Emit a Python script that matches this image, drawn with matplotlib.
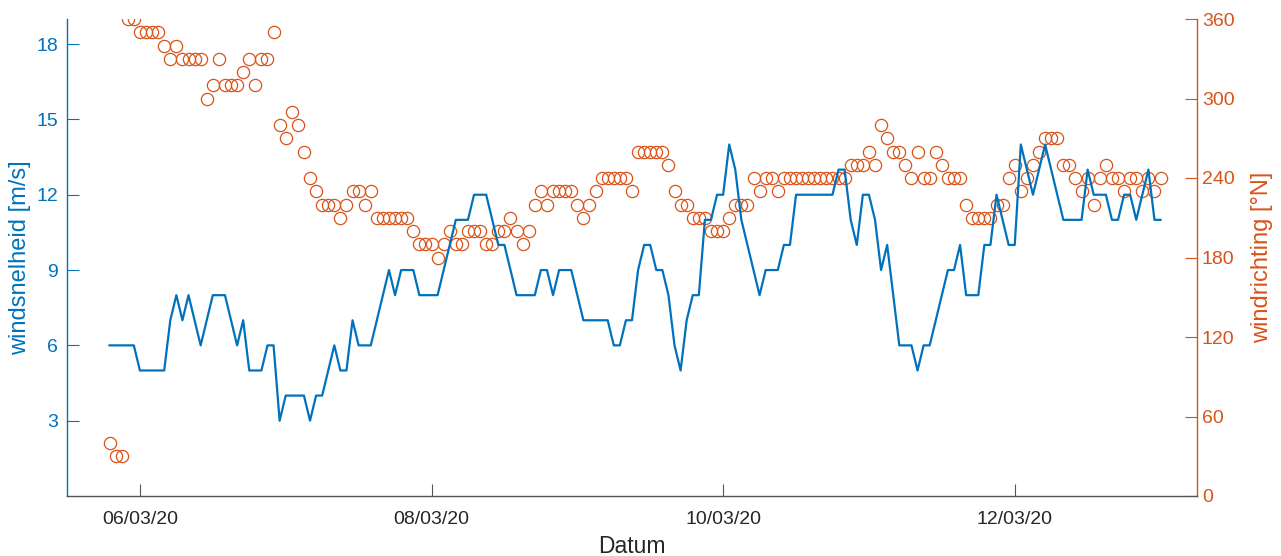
import matplotlib
matplotlib.use("Agg")
import matplotlib.pyplot as plt
import matplotlib.dates as mdates
import pandas as pd
import numpy as np

plt.rcParams['font.family'] = ['Liberation Sans', 'DejaVu Sans']

# hourly data, first sample 05/03/2020 19:00
start_time = "2020-03-05 19:00"

wind_speed = [
    6, 6, 6, 6, 6, 5, 5, 5, 5, 5,
    7, 8, 7, 8, 7, 6, 7, 8, 8, 8,
    7, 6, 7, 5, 5, 5, 6, 6, 3, 4,
    4, 4, 4, 3, 4, 4, 5, 6, 5, 5,
    7, 6, 6, 6, 7, 8, 9, 8, 9, 9,
    9, 8, 8, 8, 8, 9, 10, 11, 11, 11,
    12, 12, 12, 11, 10, 10, 9, 8, 8, 8,
    8, 9, 9, 8, 9, 9, 9, 8, 7, 7,
    7, 7, 7, 6, 6, 7, 7, 9, 10, 10,
    9, 9, 8, 6, 5, 7, 8, 8, 11, 11,
    12, 12, 14, 13, 11, 10, 9, 8, 9, 9,
    9, 10, 10, 12, 12, 12, 12, 12, 12, 12,
    13, 13, 11, 10, 12, 12, 11, 9, 10, 8,
    6, 6, 6, 5, 6, 6, 7, 8, 9, 9,
    10, 8, 8, 8, 10, 10, 12, 11, 10, 10,
    14, 13, 12, 13, 14, 13, 12, 11, 11, 11,
    11, 13, 12, 12, 12, 11, 11, 12, 12, 11,
    12, 13, 11, 11,
]

wind_dir = [
    40, 30, 30, 360, 360, 350, 350, 350, 350, 340,
    330, 340, 330, 330, 330, 330, 300, 310, 330, 310,
    310, 310, 320, 330, 310, 330, 330, 350, 280, 270,
    290, 280, 260, 240, 230, 220, 220, 220, 210, 220,
    230, 230, 220, 230, 210, 210, 210, 210, 210, 210,
    200, 190, 190, 190, 180, 190, 200, 190, 190, 200,
    200, 200, 190, 190, 200, 200, 210, 200, 190, 200,
    220, 230, 220, 230, 230, 230, 230, 220, 210, 220,
    230, 240, 240, 240, 240, 240, 230, 260, 260, 260,
    260, 260, 250, 230, 220, 220, 210, 210, 210, 200,
    200, 200, 210, 220, 220, 220, 240, 230, 240, 240,
    230, 240, 240, 240, 240, 240, 240, 240, 240, 240,
    240, 240, 250, 250, 250, 260, 250, 280, 270, 260,
    260, 250, 240, 260, 240, 240, 260, 250, 240, 240,
    240, 220, 210, 210, 210, 210, 220, 220, 240, 250,
    230, 240, 250, 260, 270, 270, 270, 250, 250, 240,
    230, 240, 220, 240, 250, 240, 240, 230, 240, 240,
    230, 240, 230, 240,
]

left_ticks = [3, 6, 9, 12, 15, 18]
right_ticks = [0, 60, 120, 180, 240, 300, 360]
tick_days = [6, 8, 10, 12]

times = pd.date_range(start_time, periods=len(wind_speed), freq="h")

BLUE = "#0072BD"
ORANGE = "#D95319"
GRAY = "#262626"

fig = plt.figure(figsize=(12.81, 5.56), dpi=100)
ax = fig.add_axes([67/1281, 60/556, (1197-67)/1281, (496-19)/556])
ax2 = ax.twinx()

ax.plot(times, wind_speed, color=BLUE, lw=1.6, zorder=3)
ax2.plot(times, wind_dir, ls="none", marker="o", ms=8.8, mfc="none",
         mec=ORANGE, mew=0.9, zorder=2)

ax.set_xlim(pd.Timestamp("2020-03-05 12:00"), pd.Timestamp("2020-03-13 06:00"))
ax.set_ylim(0, 19)
ax2.set_ylim(0, 360)
ax.set_yticks(left_ticks)
ax2.set_yticks(right_ticks)

ax.xaxis.set_major_locator(mdates.DayLocator(bymonthday=tick_days))
ax.xaxis.set_major_formatter(mdates.DateFormatter("%d/%m/%y"))

for a in (ax, ax2):
    a.spines["top"].set_visible(False)
    a.set_facecolor("none")
ax.spines["right"].set_visible(False)
ax2.spines["left"].set_visible(False)
ax2.spines["bottom"].set_visible(False)
ax.spines["left"].set_color(BLUE)
ax2.spines["right"].set_color(ORANGE)
ax.spines["bottom"].set_color("#555555")
for s in ("left", "bottom"):
    ax.spines[s].set_linewidth(1.0)
ax2.spines["right"].set_linewidth(1.0)

ax.tick_params(axis="y", direction="in", length=8.5, width=0.8, colors=BLUE,
               labelsize=14, pad=6.5)
ax2.tick_params(axis="y", direction="in", length=8.5, width=0.8, colors=ORANGE,
                labelsize=14, pad=3.5)
ax.tick_params(axis="x", direction="in", length=8.5, width=0.8, color="#555555",
               labelcolor=GRAY, labelsize=14, pad=11)

ax.set_ylabel("windsnelheid [m/s]", color=BLUE, fontsize=17, labelpad=4)
ax2.set_ylabel("windrichting [°N]", color=ORANGE, fontsize=17, labelpad=12)
ax.set_xlabel("Datum", color=GRAY, fontsize=16.5, labelpad=5)

ax.set_zorder(ax2.get_zorder() + 1)

fig.savefig("out.png", dpi=100)
